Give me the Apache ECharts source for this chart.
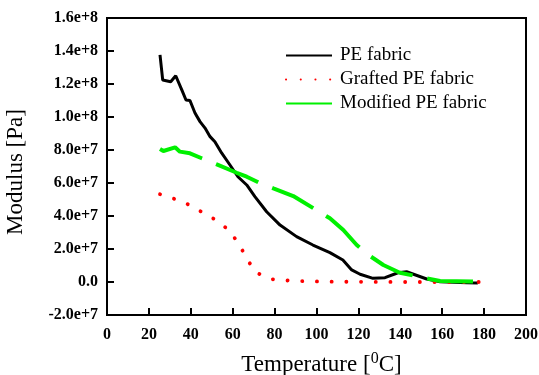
<!DOCTYPE html>
<html><head><meta charset="utf-8">
<script src="https://cdn.jsdelivr.net/npm/echarts@6/dist/echarts.min.js"></script>
<style>html,body{margin:0;padding:0;background:#fff}#c{width:539px;height:375px}</style>
</head><body><div id="c"></div>
<script>
// Temperature (°C), modulus in units of 1e7 Pa
const peTemp = [25.3,26.6,30.4,32.8,35.7,37.7,39.6,42,44.4,46.8,49.2,51.5,54.7,58.7,62.5,66.7,70.6,76.2,82.6,90.5,98.3,106.4,112.6,116.8,120.8,127,132.7,138.9,143,152.6,159,171.7,177];
const peMod  = [13.76,12.24,12.14,12.5,11.64,11.03,11.0,10.24,9.72,9.33,8.81,8.5,7.82,7.09,6.38,5.88,5.17,4.26,3.45,2.75,2.24,1.78,1.33,0.73,0.47,0.22,0.26,0.56,0.62,0.18,0.02,-0.04,-0.06];
const grTemp = [25.3,31.4,38.3,45,51.9,58.2,63.3,66.7,71,77.8,84.6,91.3,104.9,120,140,160,178];
const grMod  = [5.32,5.07,4.73,4.26,3.76,3.15,2.24,1.41,0.59,0.18,0.1,0.06,0.02,0.01,0.0,0.0,0.0];
const moTemp = [25.3,26.9,32.5,34.8,39.6,45.2,52.4,61.9,66.7,72.2,79.4,88.9,99.3,106.4,112.8,119.2,125.5,131.9,139.8,152.6,159,178];
const moMod  = [8.06,7.94,8.16,7.9,7.8,7.5,7.13,6.62,6.38,6.04,5.68,5.21,4.41,3.86,3.15,2.24,1.58,1.03,0.56,0.22,0.06,0.02];
const seriesNames = ['PE fabric','Grafted PE fabric','Modified PE fabric'];
const yTickValues = [-2e7,0,2e7,4e7,6e7,8e7,1e8,1.2e8,1.4e8,1.6e8];
const yTickLabels = ['-2.0e+7','0.0','2.0e+7','4.0e+7','6.0e+7','8.0e+7','1.0e+8','1.2e+8','1.4e+8','1.6e+8'];
const xTickLabels = ['0','20','40','60','80','100','120','140','160','180','200'];

const pairs = (xs, ys) => xs.map((x,i)=>[x, ys[i]*1e7]);
const serif = '"Liberation Serif","Times New Roman",serif';
const chart = echarts.init(document.getElementById('c'));
chart.setOption({
  animation:false,
  backgroundColor:'#fff',
  grid:{left:107,right:13,top:18,bottom:60,show:true,borderColor:'#000',borderWidth:2,backgroundColor:'transparent',
    containLabel:false,outerBoundsMode:'none'},
  legend:{
    data:seriesNames, orient:'vertical', left:285, top:46, padding:0, itemWidth:46, itemHeight:12, itemGap:5,
    itemStyle:{opacity:0},
    textStyle:{fontFamily:serif,fontSize:19,color:'#000',padding:[0,0,0,3]}
  },
  xAxis:{
    type:'value', min:0, max:200, interval:20,
    name:'{a|Temperature [}{s|0}{a|C]}', nameLocation:'middle', nameGap:36,
    nameTextStyle:{padding:[0,0,0,10],rich:{a:{fontFamily:serif,fontSize:23,color:'#000'},s:{fontFamily:serif,fontSize:16,color:'#000',verticalAlign:'top',padding:[0,0,12,0]}}},
    axisLine:{show:true,onZero:false,lineStyle:{color:'#000',width:2}},
    axisTick:{show:true,inside:true,length:7,lineStyle:{color:'#000',width:2}},
    axisLabel:{fontFamily:serif,fontSize:16,fontWeight:'bold',color:'#000',margin:12,
      formatter:(v)=>xTickLabels[Math.round(v/20)]},
    splitLine:{show:false}
  },
  yAxis:{
    type:'value', min:-2e7, max:1.6e8, interval:2e7,
    name:'Modulus [Pa]', nameLocation:'middle', nameGap:80,
    nameTextStyle:{fontFamily:serif,fontSize:23,color:'#000',padding:[0,11,0,0]},
    axisLine:{show:true,onZero:false,lineStyle:{color:'#000',width:2}},
    axisTick:{show:true,inside:true,length:7,lineStyle:{color:'#000',width:2}},
    axisLabel:{fontFamily:serif,fontSize:16,fontWeight:'bold',color:'#000',margin:9,
      formatter:(v)=>{const i=yTickValues.findIndex(t=>Math.abs(t-v)<1);return i>=0?yTickLabels[i]:'';}},
    splitLine:{show:false}
  },
  series:[
    {name:seriesNames[0],type:'line',symbol:'none',data:pairs(peTemp,peMod),z:3,
      lineStyle:{color:'#000',width:3},itemStyle:{color:'#000'}},
    {name:seriesNames[1],type:'line',symbol:'none',data:pairs(grTemp,grMod),z:4,
      lineStyle:{color:'#ff0000',width:3.8,type:[0.1,14.6],cap:'round'},itemStyle:{color:'#ff0000'}},
    {name:seriesNames[2],type:'line',symbol:'none',data:pairs(moTemp,moMod),z:5,
      lineStyle:{color:'#00f000',width:4,type:[46,15]},itemStyle:{color:'#00f000'}}
  ]
});
</script></body></html>
